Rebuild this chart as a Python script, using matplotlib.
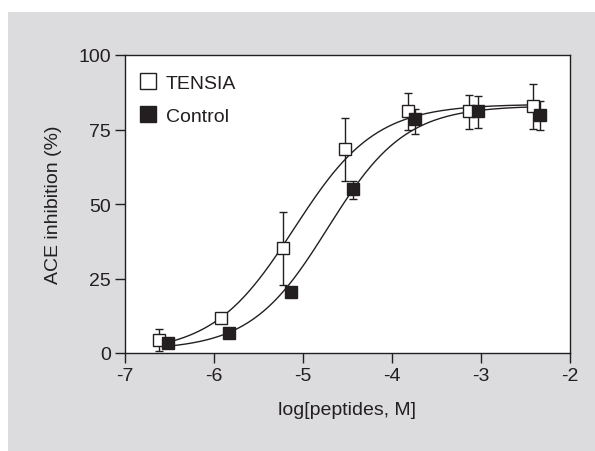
import numpy as np
import matplotlib
matplotlib.use("Agg")
import matplotlib.pyplot as plt
from matplotlib.patches import Rectangle

plt.rcParams['font.family'] = ['Liberation Sans', 'DejaVu Sans']
FS = 14

# Data
tensia_x = [-6.62, -5.92, -5.23, -4.53, -3.82, -3.14, -2.42]
tensia_y = [4.4, 11.7, 35.2, 68.6, 81.1, 81.1, 83.0]
tensia_err_lo = [3.7, 0.0, 12.4, 10.8, 6.1, 5.8, 7.7]
tensia_err_hi = [3.8, 0.0, 12.0, 10.4, 6.0, 5.6, 7.2]

control_x = [-6.52, -5.83, -5.14, -4.44, -3.74, -3.03, -2.34]
control_y = [3.4, 6.8, 20.6, 55.0, 78.5, 81.1, 79.9]
control_err_lo = [0.0, 0.0, 0.0, 3.3, 4.9, 5.5, 5.1]
control_err_hi = [0.0, 0.0, 0.0, 2.6, 3.4, 5.0, 4.5]

# Sigmoid fit parameters (bottom, top, logEC50, hill)
tensia_fit = (0.0, 83.5, -5.10, 0.95)
control_fit = (1.0, 83.0, -4.72, 1.0)

x_ticks = [-7, -6, -5, -4, -3, -2]
y_ticks = [0, 25, 50, 75, 100]

DARK = '#231f20'


def sigmoid(x, p):
    b, t, c, h = p
    return b + (t - b) / (1 + 10 ** ((c - x) * h))


fig = plt.figure(figsize=(5.95, 4.52), dpi=100)
fig.patches.append(Rectangle((8 / 595, 0), 1 - 8 / 595, 1 - 13 / 452,
                             transform=fig.transFigure, facecolor='#dcdcde',
                             edgecolor='none', zorder=-10))

ax = fig.add_axes([125 / 595, (452 - 354) / 452, 445 / 595, 298 / 452])
ax.set_facecolor('white')

for xs, p in ((tensia_x, tensia_fit), (control_x, control_fit)):
    xx = np.linspace(min(xs), max(xs), 300)
    ax.plot(xx, sigmoid(xx, p), color=DARK, lw=1.0, zorder=2)

ax.errorbar(tensia_x, tensia_y, yerr=[tensia_err_lo, tensia_err_hi], fmt='none',
            ecolor=DARK, elinewidth=1.0, capsize=3, capthick=1.0, zorder=3)
ax.errorbar(control_x, control_y, yerr=[control_err_lo, control_err_hi], fmt='none',
            ecolor=DARK, elinewidth=1.0, capsize=3, capthick=1.0, zorder=3)

ax.plot(tensia_x, tensia_y, linestyle='none', marker='s', markersize=8,
        markerfacecolor='white', markeredgecolor=DARK, markeredgewidth=1.0,
        zorder=4, label='TENSIA')
ax.plot(control_x, control_y, linestyle='none', marker='s', markersize=8,
        markerfacecolor=DARK, markeredgecolor=DARK, markeredgewidth=1.0,
        zorder=5, label='Control')

ax.set_xlim(-7, -2)
ax.set_ylim(0, 100)
ax.set_xticks(x_ticks)
ax.set_xticklabels([str(v) for v in x_ticks])
ax.set_yticks(y_ticks)
ax.set_yticklabels([str(v) for v in y_ticks])
ax.tick_params(direction='out', length=7, width=1.0, color=DARK,
               labelsize=FS, labelcolor=DARK, pad=3)

for s in ax.spines.values():
    s.set_color(DARK)
    s.set_linewidth(1.0)

ax.set_xlabel('log[peptides, M]', fontsize=FS, color=DARK, labelpad=12)
ax.set_ylabel('ACE inhibition (%)', fontsize=FS, color=DARK, labelpad=12)

leg = ax.legend(loc='upper left', frameon=False, fontsize=FS, markerscale=1.4,
                handlelength=0.8, handletextpad=0.5, labelspacing=0.8,
                borderaxespad=0.5, bbox_to_anchor=(-0.005, 0.995))
for t in leg.get_texts():
    t.set_color(DARK)

fig.savefig('out.png', dpi=100)
